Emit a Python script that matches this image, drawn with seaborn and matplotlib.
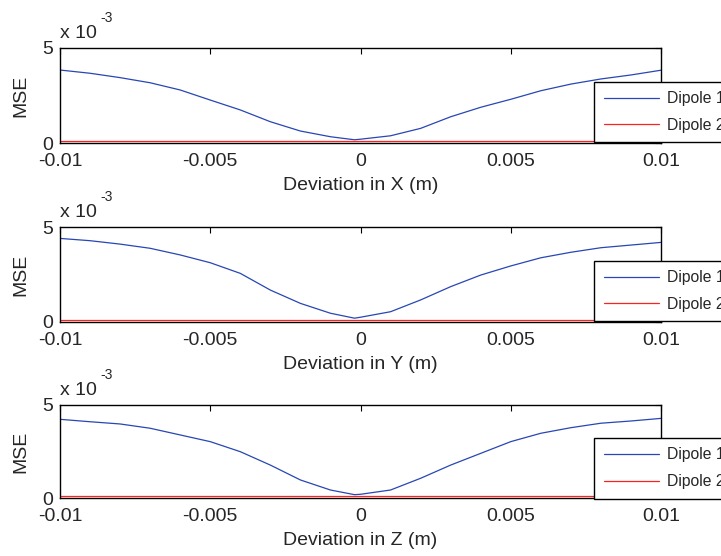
import numpy as np
import pandas as pd
import seaborn as sns
import matplotlib.pyplot as plt

# DATA (MSE in units of 1e-3)
deviation = [-0.010, -0.009, -0.008, -0.007, -0.006, -0.005, -0.004, -0.003, -0.002, -0.001,
             -0.0002, 0.000, 0.001, 0.002, 0.003, 0.004, 0.005, 0.006, 0.007, 0.008, 0.009, 0.010]
mse_x_dipole1 = [3.84, 3.67, 3.44, 3.17, 2.79, 2.26, 1.74, 1.12, 0.63, 0.33,
                 0.17, 0.20, 0.38, 0.77, 1.38, 1.88, 2.30, 2.75, 3.10, 3.37, 3.58, 3.83]
mse_y_dipole1 = [4.40, 4.28, 4.10, 3.88, 3.53, 3.12, 2.56, 1.68, 0.98, 0.46,
                 0.20, 0.25, 0.54, 1.16, 1.86, 2.47, 2.95, 3.38, 3.67, 3.91, 4.05, 4.19]
mse_z_dipole1 = [4.23, 4.10, 3.98, 3.75, 3.39, 3.03, 2.49, 1.77, 0.97, 0.43,
                 0.18, 0.20, 0.43, 1.06, 1.77, 2.40, 3.03, 3.48, 3.78, 4.02, 4.14, 4.28]
mse_dipole2 = [0.10] * len(deviation)

axis_names = ['X', 'Y', 'Z']
series_names = ['Dipole 1', 'Dipole 2']
xtick_vals = [-0.01, -0.005, 0, 0.005, 0.01]
xtick_labels = ['-0.01', '-0.005', '0', '0.005', '0.01']
ytick_vals = [0, 5]
ytick_labels = ['0', '5']

# STYLE
sns.set_style('white')
plt.rcParams['font.family'] = ['Liberation Sans', 'DejaVu Sans']
FS = 14

fig = plt.figure(figsize=(7.21, 5.56), dpi=100)
positions = [[0.0832, 0.7428, 0.8336, 0.1709],
             [0.0832, 0.4209, 0.8336, 0.1708],
             [0.0832, 0.1043, 0.8336, 0.1673]]
blue_vals = [mse_x_dipole1, mse_y_dipole1, mse_z_dipole1]

for pos, name, blue in zip(positions, axis_names, blue_vals):
    ax = fig.add_axes(pos)
    df = pd.DataFrame({'dev': deviation * 2,
                       'mse': blue + mse_dipole2,
                       'series': [series_names[0]] * len(deviation) + [series_names[1]] * len(deviation)})
    sns.lineplot(data=df, x='dev', y='mse', hue='series', palette=['#2846b4', '#ff2020'],
                 linewidth=0.9, ax=ax)
    ax.set_xlim(-0.01, 0.01)
    ax.set_ylim(0, 5)
    ax.set_xticks(xtick_vals)
    ax.set_xticklabels(xtick_labels)
    ax.set_yticks(ytick_vals)
    ax.set_yticklabels(ytick_labels)
    ax.tick_params(direction='in', length=4, width=0.8, color='black', labelsize=FS,
                   top=True, right=True)
    ax.tick_params(axis='x', pad=7.5)
    ax.tick_params(axis='y', pad=5)
    for sp in ax.spines.values():
        sp.set_color('black')
        sp.set_linewidth(1.0)
    ax.set_xlabel('Deviation in %s (m)' % name, fontsize=FS, labelpad=5)
    ax.set_ylabel('MSE', fontsize=FS, labelpad=9)
    # exponent label, matlab style
    ax.annotate('x 10', xy=(0, 1), xycoords='axes fraction', xytext=(0, 7),
                textcoords='offset points', fontsize=FS, ha='left', va='baseline')
    ax.annotate('-3', xy=(0, 1), xycoords='axes fraction', xytext=(29, 19),
                textcoords='offset points', fontsize=10, ha='left', va='baseline')
    leg = ax.legend(loc='upper left', bbox_to_anchor=(0.889, 0.645), fontsize=11.3,
                    frameon=True, fancybox=False, edgecolor='black', framealpha=1,
                    handlelength=3.5, handletextpad=0.55, borderpad=0.6, labelspacing=0.75,
                    borderaxespad=0, title=None)
    leg.get_frame().set_linewidth(1.0)

plt.savefig('out.png', dpi=100)
